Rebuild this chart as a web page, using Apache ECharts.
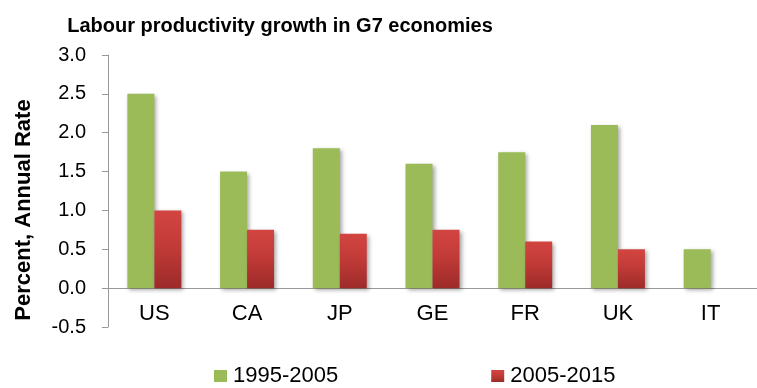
<!DOCTYPE html>
<html><head><meta charset="utf-8">
<script src="https://cdn.jsdelivr.net/npm/echarts@6/dist/echarts.min.js"></script>
<style>html,body{margin:0;padding:0;background:#fff}#c{width:757px;height:388px}</style>
</head><body><div id="c"></div>
<script>
const categories = ['US','CA','JP','GE','FR','UK','IT'];
const s1995 = [2.5, 1.5, 1.8, 1.6, 1.75, 2.1, 0.5];
const s2005 = [1.0, 0.75, 0.7, 0.75, 0.6, 0.5, 0];
const seriesNames = ['1995-2005','2005-2015'];
const titleText = 'Labour productivity growth in G7 economies';
const yName = 'Percent, Annual Rate';

const chart = echarts.init(document.getElementById('c'));
const shadow = {shadowBlur:4, shadowColor:'rgba(0,0,0,0.35)', shadowOffsetX:2, shadowOffsetY:2};
chart.setOption({
  animation:false,
  title:{text:titleText, left:'275', top:11, textAlign:'center',
    textStyle:{fontFamily:'Liberation Sans', fontWeight:'bold', fontSize:20, color:'#000'}},
  legend:{top:360, left:209, itemGap:153, itemWidth:13, itemHeight:12, icon:'rect',
    textStyle:{fontFamily:'Liberation Sans', fontSize:22, color:'#000', padding:[0,0,0,1]}},
  grid:{left:108, right:-9, top:55, bottom:61, containLabel:false},
  xAxis:{type:'category', data:categories, offset:-38.86,
    axisLine:{onZero:false, lineStyle:{color:'#999'}},
    axisTick:{length:5, lineStyle:{color:'#999'}},
    axisLabel:{fontFamily:'Liberation Sans', fontSize:22, color:'#000', margin:15}},
  yAxis:{type:'value', min:-0.5, max:3.0, interval:0.5,
    name:yName, nameLocation:'middle', nameGap:73, nameRotate:90,
    nameTextStyle:{fontFamily:'Liberation Sans', fontWeight:'bold', fontSize:22, color:'#000', padding:[0,38,0,0]},
    axisLine:{show:true, lineStyle:{color:'#999'}},
    axisTick:{show:true, inside:false, length:6, lineStyle:{color:'#999'}},
    splitLine:{show:false},
    axisLabel:{fontFamily:'Liberation Sans', fontSize:20, color:'#000', margin:22,
      formatter:v=>v.toFixed(1)}},
  series:[
    {name:seriesNames[0], type:'bar', data:s1995, barWidth:27, barGap:'0%',
      itemStyle:Object.assign({color:'#9bbb59'}, shadow)},
    {name:seriesNames[1], type:'bar', data:s2005, barWidth:27,
      itemStyle:Object.assign({color:new echarts.graphic.LinearGradient(0,0,0,1,[
        {offset:0,color:'#d24541'},{offset:0.45,color:'#c23b38'},{offset:1,color:'#9c2b29'}])}, shadow)}
  ]
});
</script></body></html>
